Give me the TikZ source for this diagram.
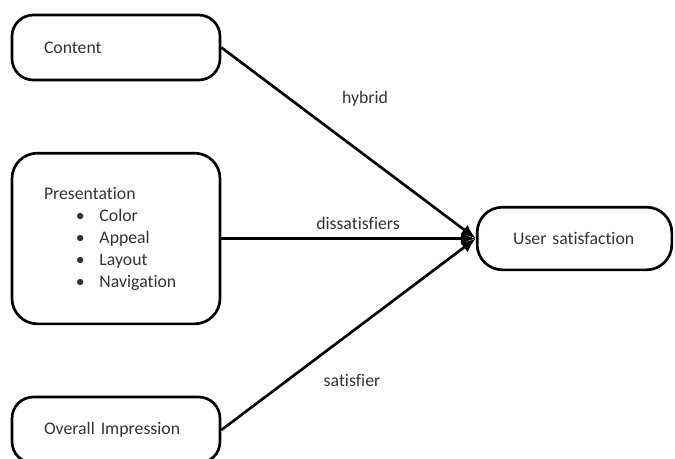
\documentclass[tikz,border=0pt]{standalone}
\usepackage{fontspec}
\setmainfont[Ligatures={NoCommon}]{Carlito}
\usepackage{tikz}
\usetikzlibrary{calc,positioning,arrows,arrows.meta}

\begin{document}
\begin{tikzpicture}[x=0.75pt, y=-0.75pt,
  box/.style={draw, line width=2pt, rounded corners=16pt, align=left,
    inner xsep=24pt, text width=108pt, minimum height=48.75pt},
  lnk/.style={line width=2pt, -{Latex[length=11pt, width=9pt]}},
  lbl/.style={inner sep=1.5pt, text=black!80}]
\useasboundingbox (0,0) rectangle (675,458);
\fontsize{13.3}{16.5}\selectfont

\node[box, text=black!80] (content) at (116,47.5) {Content};
\node[box, text=black!80, minimum height=128pt, rounded corners=19pt] (present) at (116,238.5)
  {Presentation\\
   \hspace{24pt}\textbullet\hspace{11pt}Color\\
   \hspace{24pt}\textbullet\hspace{11pt}Appeal\\
   \hspace{24pt}\textbullet\hspace{11pt}Layout\\
   \hspace{24pt}\textbullet\hspace{11pt}Navigation};
\node[box, text=black!80, minimum height=49.5pt] (overall) at (116,430) {Overall Impression};
\node[box, text=black!80, text width=92pt, inner xsep=27pt, minimum height=47pt, rounded corners=19pt]
  (user) at (574.5,238.5) {User satisfaction};

\draw[lnk] (content.east) -- (user.west);
\draw[lnk] (present.east) -- (user.west);
\draw[lnk] (overall.east) -- (user.west);

\node[lbl] (hyb) at (365,99) {hybrid};
\node[lbl] (dis) at (358,223) {dissatisfiers};
\node[lbl] (sat) at (352,380) {satisfier};

\end{tikzpicture}
\end{document}
